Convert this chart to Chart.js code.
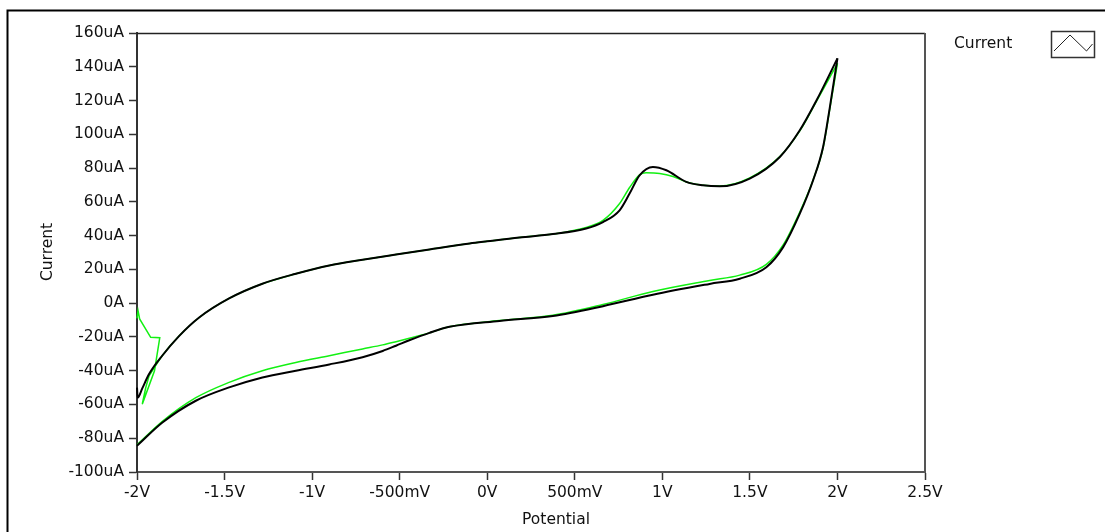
<!DOCTYPE html>
<html>
<head>
<meta charset="utf-8">
<script src="https://cdn.jsdelivr.net/npm/chart.js@4.4.1/dist/chart.umd.min.js"></script>
<style>
  html, body { margin: 0; padding: 0; background: #fff; }
  #wrap { position: relative; width: 1105px; height: 532px; }
</style>
</head>
<body>
<div id="wrap"><canvas id="c" width="1105" height="532"></canvas></div>
<script>
// ---- Data (Potential in V, Current in uA) ----
const xTickLabels = ['-2V', '-1.5V', '-1V', '-500mV', '0V', '500mV', '1V', '1.5V', '2V', '2.5V'];
const yTickLabels = ['-100uA', '-80uA', '-60uA', '-40uA', '-20uA', '0A', '20uA', '40uA', '60uA', '80uA', '100uA', '120uA', '140uA', '160uA'];

// Black trace: forward (anodic) branch
const blackForwardV = [-2.000, -1.996, -1.970, -1.931, -1.855, -1.760, -1.645, -1.474, -1.284, -1.093, -0.902, -0.712, -0.521, -0.330, -0.100, 0.000, 0.184, 0.375, 0.565, 0.661, 0.756, 0.813, 0.870, 0.946, 1.023, 1.137, 1.232, 1.328, 1.499, 1.671, 1.785, 1.880, 2.000];
const blackForwardI = [-50.0, -56.0, -50.5, -42.0, -31.0, -19.5, -8.5, 2.8, 11.5, 17.4, 22.3, 25.7, 28.8, 31.8, 35.3, 36.6, 38.9, 40.9, 44.2, 48.0, 55.0, 64.9, 75.7, 80.7, 78.7, 71.8, 69.8, 69.2, 73.8, 86.6, 102.4, 120.0, 145.0];
// Black trace: reverse (cathodic) branch
const blackReverseV = [2.000, 1.957, 1.918, 1.861, 1.785, 1.690, 1.594, 1.442, 1.270, 0.946, 0.661, 0.375, 0.070, -0.216, -0.330, -0.445, -0.521, -0.597, -0.712, -0.902, -1.093, -1.284, -1.474, -1.664, -1.855, -2.000];
const blackReverseI = [145.0, 116.3, 92.5, 72.8, 53.0, 33.2, 21.3, 14.5, 11.4, 5.0, -1.8, -7.6, -10.5, -14.0, -17.6, -22.0, -25.2, -28.3, -32.0, -36.3, -40.0, -44.0, -49.9, -57.8, -70.7, -84.5];

// Green trace: initial spike at the start of the scan
const greenStartV = [-2.000, -1.994, -1.985, -1.922, -1.870, -1.900, -1.970, -1.950, -1.931];
const greenStartI = [-9.0, -4.5, -9.3, -20.2, -20.5, -40.0, -59.8, -50.0, -43.0];
// Green trace: forward branch
const greenForwardV = [-1.931, -1.855, -1.760, -1.645, -1.474, -1.284, -1.093, -0.902, -0.712, -0.521, -0.330, -0.100, 0.000, 0.184, 0.375, 0.565, 0.661, 0.756, 0.813, 0.870, 0.907, 0.985, 1.061, 1.137, 1.232, 1.328, 1.499, 1.671, 1.785, 1.880, 2.000];
const greenForwardI = [-43.0, -31.0, -19.5, -8.5, 2.8, 11.5, 17.4, 22.3, 25.7, 28.8, 31.8, 35.3, 36.6, 38.9, 40.9, 44.8, 49.0, 59.0, 68.5, 76.0, 77.2, 76.8, 75.0, 71.8, 69.8, 69.4, 74.2, 86.8, 102.0, 119.5, 142.0];
// Green trace: reverse branch
const greenReverseV = [2.000, 1.957, 1.918, 1.861, 1.785, 1.690, 1.594, 1.442, 1.270, 0.946, 0.661, 0.375, 0.070, -0.216, -0.330, -0.445, -0.521, -0.597, -0.712, -0.902, -1.093, -1.284, -1.474, -1.664, -1.855, -2.000];
const greenReverseI = [142.0, 115.5, 92.0, 73.0, 54.0, 34.5, 23.0, 16.6, 13.4, 6.9, -0.8, -7.2, -10.3, -14.0, -17.6, -20.8, -22.8, -24.7, -27.1, -31.1, -35.1, -40.0, -46.9, -56.0, -70.0, -84.0];

function pts(xs, ys) { return xs.map((x, i) => ({ x: x, y: ys[i] })); }

const FONT = 'DejaVu Sans';
const FSIZE = 15.5;
const TEXT = '#111';
const GREEN = '#12f012';

const decor = {
  id: 'decor',
  afterDraw(chart) {
    const ctx = chart.ctx;
    const ca = chart.chartArea;
    ctx.save();
    // outer frame
    ctx.strokeStyle = '#000';
    ctx.lineWidth = 2;
    ctx.beginPath();
    ctx.moveTo(7.5, 545);
    ctx.lineTo(7.5, 10.5);
    ctx.lineTo(1115, 10.5);
    ctx.stroke();
    // top & right border of plot area
    ctx.strokeStyle = '#222';
    ctx.lineWidth = 1.5;
    ctx.beginPath();
    ctx.moveTo(ca.left, ca.top + 0.5);
    ctx.lineTo(ca.right, ca.top + 0.5);
    ctx.stroke();
    ctx.strokeStyle = '#555';
    ctx.lineWidth = 2;
    ctx.beginPath();
    ctx.moveTo(ca.right, ca.top);
    ctx.lineTo(ca.right, ca.bottom);
    ctx.stroke();
    // axis titles
    ctx.fillStyle = TEXT;
    ctx.font = FSIZE + 'px "' + FONT + '"';
    ctx.textAlign = 'center';
    ctx.textBaseline = 'middle';
    ctx.fillText('Potential', 556, 520);
    ctx.save();
    ctx.translate(48, 252);
    ctx.rotate(-Math.PI / 2);
    ctx.fillText('Current', 0, 0);
    ctx.restore();
    // legend
    ctx.textAlign = 'left';
    ctx.fillText('Current', 954, 44);
    ctx.strokeStyle = '#333';
    ctx.lineWidth = 1.5;
    ctx.strokeRect(1051.5, 31.5, 43, 26);
    ctx.strokeStyle = '#222';
    ctx.lineWidth = 1;
    ctx.beginPath();
    ctx.moveTo(1054, 51);
    ctx.lineTo(1070, 35);
    ctx.lineTo(1086.5, 51);
    ctx.lineTo(1092.5, 44);
    ctx.stroke();
    ctx.restore();
  }
};

function lineDs(data, color, width, smooth) {
  const ds = {
    data: data,
    showLine: true,
    borderColor: color,
    backgroundColor: color,
    borderWidth: width,
    pointRadius: 0,
    pointHoverRadius: 0,
    tension: smooth ? 0.4 : 0,
    fill: false,
    clip: 4
  };
  if (smooth) ds.cubicInterpolationMode = 'monotone';
  return ds;
}

new Chart(document.getElementById('c'), {
  type: 'scatter',
  data: {
    datasets: [
      lineDs(pts(blackForwardV, blackForwardI), '#000', 2, true),
      lineDs(pts(blackReverseV, blackReverseI), '#000', 2, true),
      lineDs(pts(greenStartV, greenStartI), GREEN, 1.5, false),
      lineDs(pts(greenForwardV, greenForwardI), GREEN, 1.5, true),
      lineDs(pts(greenReverseV, greenReverseI), GREEN, 1.5, true)
    ]
  },
  options: {
    responsive: false,
    animation: false,
    devicePixelRatio: 1,
    layout: { padding: { top: 33, right: 180, bottom: 0, left: 0 } },
    plugins: {
      legend: { display: false },
      tooltip: { enabled: false },
      title: { display: false }
    },
    scales: {
      x: {
        type: 'linear',
        min: -2,
        max: 2.5,
        afterFit(s) { s.height = 60; },
        afterBuildTicks(s) {
          s.ticks = xTickLabels.map((_, i) => ({ value: -2 + 0.5 * i }));
        },
        ticks: {
          autoSkip: false,
          maxRotation: 0,
          padding: 4,
          color: TEXT,
          font: { family: FONT, size: FSIZE },
          callback: (v, i) => xTickLabels[i]
        },
        grid: { display: true, drawOnChartArea: false, drawTicks: true, tickLength: 8, tickColor: '#333', tickWidth: 1.5 },
        border: { display: true, color: '#555', width: 2 }
      },
      y: {
        type: 'linear',
        min: -100,
        max: 160,
        afterFit(s) { s.width = 137; },
        afterBuildTicks(s) {
          s.ticks = yTickLabels.map((_, i) => ({ value: -100 + 20 * i }));
        },
        ticks: {
          autoSkip: false,
          padding: 5,
          color: TEXT,
          font: { family: FONT, size: FSIZE },
          callback: (v, i) => yTickLabels[i]
        },
        grid: { display: true, drawOnChartArea: false, drawTicks: true, tickLength: 8, tickColor: '#333', tickWidth: 1.5 },
        border: { display: true, color: '#333', width: 2 }
      }
    }
  },
  plugins: [decor]
});
</script>
</body>
</html>
